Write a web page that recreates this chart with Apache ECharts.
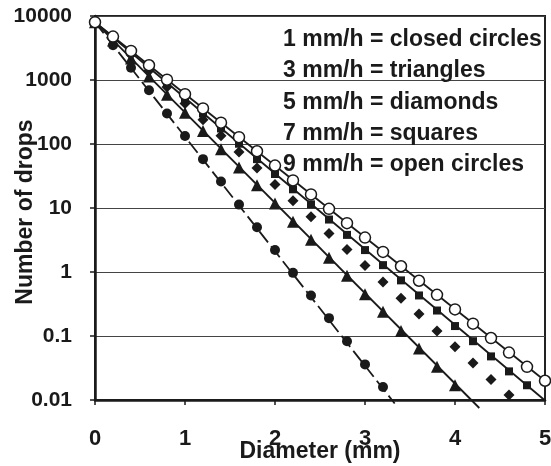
<!DOCTYPE html>
<html>
<head>
<meta charset="utf-8">
<script src="https://cdn.jsdelivr.net/npm/echarts@6/dist/echarts.min.js"></script>
<style>
  html, body { margin: 0; padding: 0; background: #fff; }
  #chart { width: 551px; height: 466px; }
</style>
</head>
<body>
<div id="chart"></div>
<script>
// Drop size distributions for five rain rates (number of drops vs diameter)
const diameters = [0, 0.2, 0.4, 0.6, 0.8, 1.0, 1.2, 1.4, 1.6, 1.8, 2.0, 2.2, 2.4,
  2.6, 2.8, 3.0, 3.2, 3.4, 3.6, 3.8, 4.0, 4.2, 4.4, 4.6, 4.8, 5.0];

// 1 mm/h (closed circles)
const rate1 = [8000, 3500, 1550, 690, 300, 133, 58, 26, 11.3, 5.0, 2.2, 0.97, 0.43,
  0.19, 0.083, 0.036, 0.016];
// 3 mm/h (triangles)
const rate3 = [8000, 4150, 2170, 1130, 590, 307, 160, 83, 43, 22.6, 11.8, 6.1, 3.2,
  1.67, 0.87, 0.45, 0.24, 0.12, 0.064, 0.033, 0.017];
// 5 mm/h (diamonds)
const rate5 = [8000, 4450, 2490, 1390, 775, 430, 240, 134, 75, 42, 23.3, 13, 7.3,
  4.0, 2.25, 1.26, 0.70, 0.39, 0.22, 0.12, 0.068, 0.038, 0.021, 0.012];
// 7 mm/h (squares)
const rate7 = [8000, 4630, 2690, 1550, 900, 520, 300, 175, 101, 58, 34, 19.6, 11.4,
  6.6, 3.8, 2.2, 1.28, 0.74, 0.43, 0.25, 0.143, 0.083, 0.048, 0.028, 0.017];
// 9 mm/h (open circles)
const rate9 = [8000, 4770, 2850, 1700, 1010, 600, 360, 215, 128, 77, 46, 27, 16.3,
  9.7, 5.8, 3.45, 2.06, 1.23, 0.73, 0.44, 0.26, 0.156, 0.093, 0.055, 0.033, 0.020];

// Straight fitted lines (start and end points)
const fit1 = [[0, 8000], [3.33, 0.0088]];
const fit3 = [[0, 8000], [4.27, 0.0075]];
const fit7 = [[0, 8000], [5.0, 0.0098]];
const fit9 = [[0, 8000], [5.0, 0.020]];

const xTicks = [0, 1, 2, 3, 4, 5];
const yTicks = [0.01, 0.1, 1, 10, 100, 1000, 10000];

const legendLines = [
  '1 mm/h = closed circles',
  '3 mm/h = triangles',
  '5 mm/h = diamonds',
  '7 mm/h = squares',
  '9 mm/h = open circles'
];

const pairs = vals => vals.map((v, i) => [diameters[i], v]);

const FONT = '"Liberation Sans", Arial, sans-serif';
const INK = '#1a1a1a';

const chart = echarts.init(document.getElementById('chart'), null, { renderer: 'canvas' });

const fitLine = (data, dash) => ({
  type: 'line',
  data: data,
  symbol: 'none',
  clip: false,
  silent: true,
  lineStyle: { color: INK, width: 1.8, type: dash || 'solid' },
  z: 2
});

const markers = (data, symbol, size, fill) => ({
  type: 'scatter',
  data: data,
  symbol: symbol,
  symbolSize: size,
  itemStyle: {
    color: fill, opacity: 1,
    borderColor: INK, borderWidth: fill === '#fff' ? 1.5 : 0
  },
  z: 3
});

chart.setOption({
  animation: false,
  backgroundColor: '#fff',
  grid: {
    left: 95, right: 6, top: 16, bottom: 66,
    containLabel: false,
    outerBoundsMode: 'none',
    show: true, borderColor: '#222', borderWidth: 2, backgroundColor: 'transparent'
  },
  xAxis: {
    type: 'value',
    min: xTicks[0], max: xTicks[xTicks.length - 1], interval: 1,
    name: 'Diameter (mm)',
    nameLocation: 'middle',
    nameGap: 40,
    nameMoveOverlap: false,
    nameTextStyle: { fontFamily: FONT, fontWeight: 'bold', fontSize: 23, color: INK },
    axisLine: { onZero: false, lineStyle: { color: INK, width: 2.5 } },
    axisTick: { show: true, length: 5, lineStyle: { color: INK, width: 1.5 } },
    axisLabel: { fontFamily: FONT, fontWeight: 'bold', fontSize: 22, color: INK, margin: 28 },
    splitLine: { show: false }
  },
  yAxis: {
    type: 'log',
    logBase: 10,
    min: yTicks[0], max: yTicks[yTicks.length - 1],
    name: 'Number of drops',
    nameLocation: 'middle',
    nameGap: 58,
    nameMoveOverlap: false,
    nameTextStyle: {
      fontFamily: FONT, fontWeight: 'bold', fontSize: 23, color: INK,
      padding: [0, 8, 0, 0]
    },
    axisLine: { lineStyle: { color: INK, width: 2.5 } },
    axisTick: { show: true, length: 5, lineStyle: { color: INK, width: 1.5 } },
    axisLabel: {
      fontFamily: FONT, fontWeight: 'bold', fontSize: 21, color: INK, margin: 23,
      formatter: v => String(parseFloat(Number(v).toPrecision(6)))
    },
    splitLine: { show: true, lineStyle: { color: '#444', width: 1 } }
  },
  series: [
    fitLine(fit1, [14, 5]),
    fitLine(fit3),
    fitLine(fit7),
    fitLine(fit9),
    markers(pairs(rate1), 'circle', 10, INK),
    markers(pairs(rate3), 'triangle', 12, INK),
    markers(pairs(rate5), 'diamond', 11, INK),
    markers(pairs(rate7), 'rect', 8, INK),
    markers(pairs(rate9), 'circle', 11, '#fff')
  ],
  graphic: legendLines.map((t, i) => ({
    type: 'text',
    x: 283,
    y: 39.5 + i * 31.4,
    z: 10,
    style: {
      text: t,
      fill: INK,
      font: 'bold 23px ' + FONT,
      align: 'left',
      verticalAlign: 'middle'
    }
  }))
});
</script>
</body>
</html>
